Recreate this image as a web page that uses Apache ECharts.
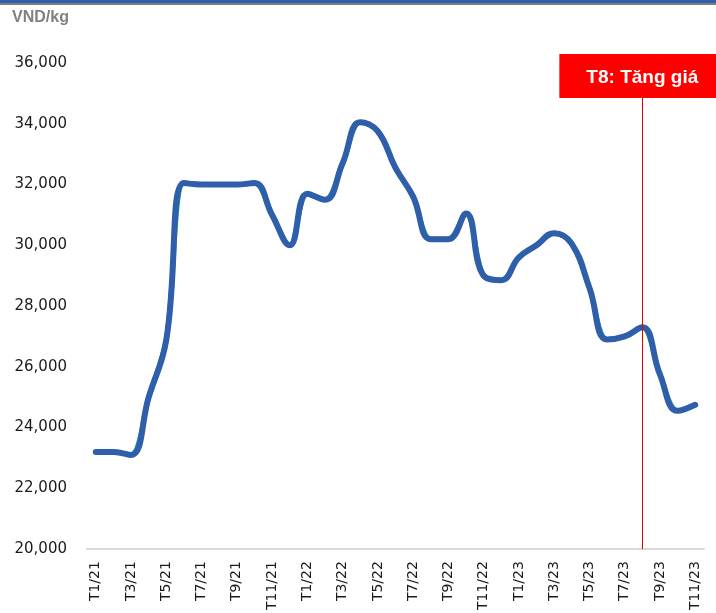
<!DOCTYPE html>
<html>
<head>
<meta charset="utf-8">
<script src="https://cdn.jsdelivr.net/npm/echarts@6/dist/echarts.min.js"></script>
<style>
  html, body { margin: 0; padding: 0; background: #fff; }
  #chart { width: 716px; height: 613px; }
</style>
</head>
<body>
<div id="chart"></div>
<script>
// Monthly price, Jan 2021 – Nov 2023 (VND/kg)
const months = [
  'T1/21','T2/21','T3/21','T4/21','T5/21','T6/21','T7/21','T8/21','T9/21','T10/21','T11/21','T12/21',
  'T1/22','T2/22','T3/22','T4/22','T5/22','T6/22','T7/22','T8/22','T9/22','T10/22','T11/22','T12/22',
  'T1/23','T2/23','T3/23','T4/23','T5/23','T6/23','T7/23','T8/23','T9/23','T10/23','T11/23'
];
const prices = [
  23200, 23200, 23100, 25000, 26900, 32050, 32000, 32000, 32000, 32050, 31000, 30000,
  31700, 31500, 32700, 34050, 33750, 32550, 31600, 30200, 30200, 31050, 29000, 28850,
  29600, 30000, 30400, 30050, 28600, 26900, 27000, 27300, 25750, 24550, 24750
];
const yTicks = { min: 20000, max: 36000, step: 2000 };
const eventMonth = 'T8/23';
const eventText = 'T8: Tăng giá';
const eventTop = 34850;   // upper end of the event marker line
const unitLabel = 'VND/kg';

const chart = echarts.init(document.getElementById('chart'), null, { renderer: 'canvas' });
chart.setOption({
  animation: false,
  backgroundColor: '#ffffff',
  title: {
    text: unitLabel,
    left: 7, top: 5,
    textStyle: { fontFamily: 'Liberation Sans', fontSize: 16, fontWeight: 'bold', color: '#808080' }
  },
  graphic: [
    { type: 'rect', left: 0, top: 0, shape: { width: 716, height: 3 }, style: { fill: '#2f5fab' } },
    { type: 'rect', left: 0, top: 3, shape: { width: 716, height: 2 }, style: { fill: '#7f7f7f' } }
  ],
  grid: { left: 87, right: 12, top: 63, bottom: 63, containLabel: false },
  xAxis: {
    type: 'category',
    data: months,
    boundaryGap: true,
    axisLine: { lineStyle: { color: '#d9d9d9', width: 2 } },
    axisTick: { show: false },
    axisLabel: {
      interval: 1,
      rotate: 90,
      margin: 12,
      fontFamily: 'DejaVu Sans',
      fontSize: 14,
      color: '#1a1a1a'
    },
    splitLine: { show: false }
  },
  yAxis: {
    type: 'value',
    min: yTicks.min, max: yTicks.max, interval: yTicks.step,
    axisLine: { show: false },
    axisTick: { show: false },
    splitLine: { show: false },
    axisLabel: {
      margin: 20,
      fontFamily: 'DejaVu Sans',
      fontSize: 15,
      color: '#1a1a1a',
      formatter: v => v.toLocaleString('en-US')
    }
  },
  series: [
    {
      type: 'line',
      data: prices,
      smooth: 0.35,
      showSymbol: false,
      lineStyle: { color: '#1f9c86', width: 5 },
      silent: true,
      z: 2
    },
    {
      type: 'line',
      data: prices,
      smooth: 0.45,
      showSymbol: false,
      lineStyle: { color: '#2f5fab', width: 6, cap: 'round', join: 'round' },
      z: 3,
      markLine: {
        silent: true,
        symbol: ['none', 'none'],
        lineStyle: { color: '#e00000', width: 1, type: 'solid' },
        label: {
          show: true,
          position: 'end',
          distance: 0,
          formatter: eventText,
          backgroundColor: '#ff0000',
          color: '#ffffff',
          fontFamily: 'Liberation Sans',
          fontSize: 19,
          fontWeight: 'bold',
          padding: [14, 27, 11, 27]
        },
        data: [[
          { xAxis: eventMonth, yAxis: yTicks.min },
          { xAxis: eventMonth, yAxis: eventTop }
        ]]
      }
    }
  ]
});
</script>
</body>
</html>
